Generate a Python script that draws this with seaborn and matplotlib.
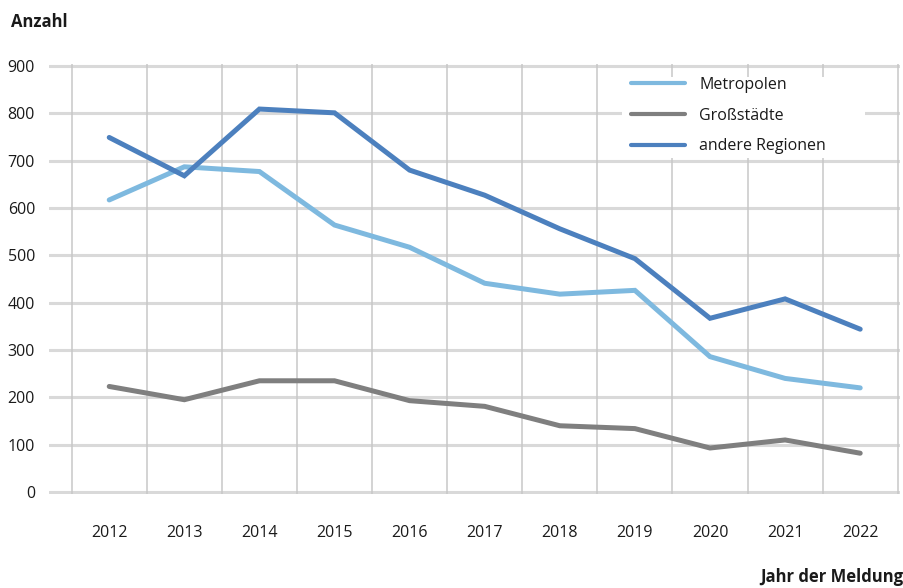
import matplotlib
matplotlib.use("Agg")
import matplotlib.pyplot as plt
from matplotlib.patches import Rectangle
import seaborn as sns
import pandas as pd

years = ["2012", "2013", "2014", "2015", "2016", "2017", "2018", "2019", "2020", "2021", "2022"]
metropolen = [617, 687, 677, 564, 517, 441, 418, 426, 286, 240, 220]
grossstaedte = [223, 195, 235, 235, 193, 181, 140, 134, 93, 110, 82]
andere_regionen = [749, 668, 809, 801, 680, 627, 556, 493, 367, 408, 344]

series_names = ["Metropolen", "Großstädte", "andere Regionen"]
colors = ["#7EB9DF", "#7F7F7F", "#4C80BE"]

df = pd.DataFrame({
    "Jahr": list(range(len(years))) * 3,
    "Anzahl": metropolen + grossstaedte + andere_regionen,
    "Gruppe": [series_names[0]] * len(years) + [series_names[1]] * len(years) + [series_names[2]] * len(years),
})

sns.set_theme(style="white")
plt.rcParams["font.family"] = ["Open Sans", "DejaVu Sans"]

W, H = 904, 588
AX_L, AX_R, AX_T, AX_B = 49, 900, 63.6, 494.4
fig = plt.figure(figsize=(W / 100, H / 100), dpi=100)
ax = fig.add_axes([AX_L / W, 1 - AX_B / H, (AX_R - AX_L) / W, (AX_B - AX_T) / H])


def ax_frac(px, py):
    """Pixel position in the figure -> axes fraction."""
    return (px - AX_L) / (AX_R - AX_L), (AX_B - py) / (AX_B - AX_T)


# grid: horizontal at every 100, vertical at category boundaries
for v in range(0, 1000, 100):
    ax.axhline(v, color="#D9D9D9", lw=2.2, zorder=0)
for b in range(len(years) + 1):
    ax.axvline(b - 0.5, color="#C8C8C8", lw=1.1, zorder=0)

sns.lineplot(data=df, x="Jahr", y="Anzahl", hue="Gruppe", hue_order=series_names,
             palette=colors, linewidth=3.6, ax=ax, legend=False, zorder=3)
for line in ax.lines[-3:]:
    line.set_solid_capstyle("round")
    line.set_solid_joinstyle("miter")

ax.set_xlim(-0.802, 10.53)
ax.set_ylim(-5, 905)
ax.set_yticks(range(0, 1000, 100))
ax.set_yticklabels([str(v) for v in range(0, 1000, 100)], fontsize=11.5, color="#1a1a1a")
ax.set_xticks(range(len(years)))
ax.set_xticklabels(years, fontsize=11.5, color="#1a1a1a")
ax.set_xticks([b - 0.5 for b in range(len(years) + 1)], minor=True)
ax.tick_params(axis="x", which="major", length=0, pad=22)
ax.tick_params(axis="x", which="minor", length=7, width=1.1, color="#C8C8C8", direction="out")
ax.tick_params(axis="y", length=0, pad=10)
ax.set_xlabel("")
ax.set_ylabel("")
for s in ax.spines.values():
    s.set_visible(False)

# white legend area over the grid
x0, y0 = ax_frac(622, 158)
x1, y1 = ax_frac(865, 77)
ax.add_patch(Rectangle((x0, y0), x1 - x0, y1 - y0, transform=ax.transAxes,
                       facecolor="white", edgecolor="none", zorder=1))

handles = [plt.Line2D([], [], color=c, lw=3.0) for c in colors]
leg = ax.legend(handles, series_names, loc="upper left",
                bbox_to_anchor=ax_frac(631, 77),
                frameon=False, fontsize=11.5, handlelength=3.4, handletextpad=0.875,
                labelspacing=0.92, borderpad=0, borderaxespad=0)
leg.set_zorder(5)
for t in leg.get_texts():
    t.set_color("#1a1a1a")

fig.text(11 / W, 1 - 22 / H, "Anzahl", fontsize=12, fontweight="bold", color="#1a1a1a",
         ha="left", va="center")
fig.text(903 / W, 1 - 577 / H, "Jahr der Meldung", fontsize=12, fontweight="bold",
         color="#1a1a1a", ha="right", va="center")

fig.savefig("out.png", dpi=100, facecolor="white")
